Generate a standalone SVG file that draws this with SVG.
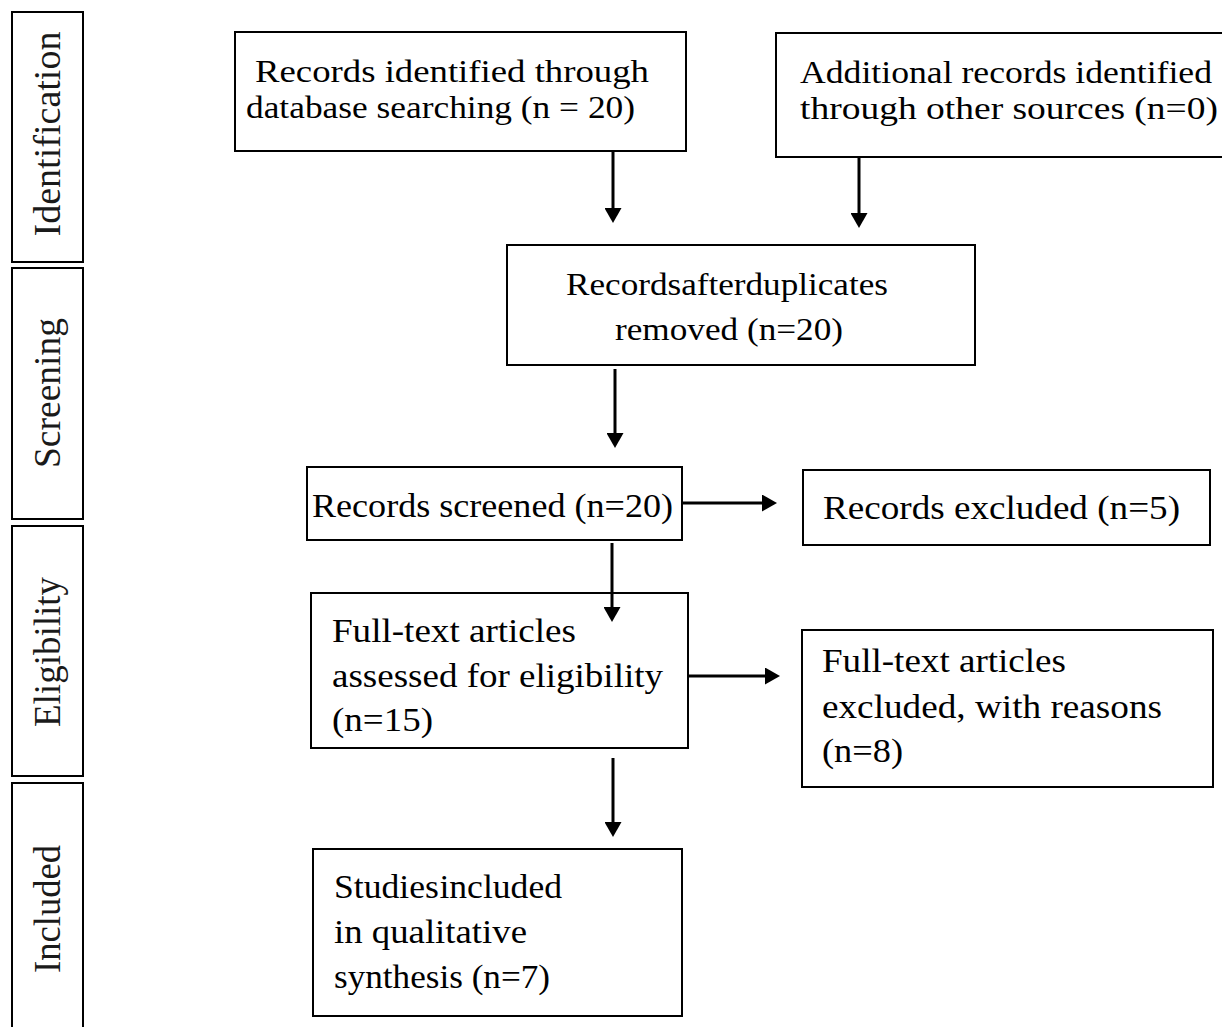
<svg xmlns="http://www.w3.org/2000/svg" width="1222" height="1027" viewBox="0 0 1222 1027">
<style>
  .box { fill: #ffffff; stroke: #000000; stroke-width: 2; }
  .t { font-family: "Liberation Serif", "Times New Roman", serif; font-size: 34px; fill: #000000; }
  .s { font-size: 32px; }
  .side { font-family: "Liberation Serif", "Times New Roman", serif; font-size: 38px; fill: #1a1a1a; text-anchor: middle; }
  .conn { stroke: #000000; stroke-width: 3; fill: none; marker-end: url(#arrow); }
</style>
<defs>
  <marker id="arrow" viewBox="0 0 15 17" markerWidth="15" markerHeight="17" refX="5" refY="8.5" orient="auto" markerUnits="userSpaceOnUse">
    <path d="M0,0 L15,8.5 L0,17 z" fill="#000000"/>
  </marker>
</defs>
<rect width="1222" height="1027" fill="#ffffff"/>

<g id="stage-identification">
  <rect class="box" x="12" y="12" width="71" height="250"/>
  <text class="side" transform="translate(60,134) rotate(-90)" textLength="205" lengthAdjust="spacingAndGlyphs">Identification</text>
</g>
<g id="stage-screening">
  <rect class="box" x="12" y="268" width="71" height="251"/>
  <text class="side" transform="translate(60,393) rotate(-90)" textLength="150" lengthAdjust="spacingAndGlyphs">Screening</text>
</g>
<g id="stage-eligibility">
  <rect class="box" x="12" y="526" width="71" height="250"/>
  <text class="side" transform="translate(60,652) rotate(-90)" textLength="150" lengthAdjust="spacingAndGlyphs">Eligibility</text>
</g>
<g id="stage-included">
  <rect class="box" x="12" y="783" width="71" height="260"/>
  <text class="side" transform="translate(60,909) rotate(-90)" textLength="128" lengthAdjust="spacingAndGlyphs">Included</text>
</g>

<g id="node-database">
  <rect class="box" x="235" y="32" width="451" height="119"/>
  <text class="t s" x="255" y="82" textLength="394" lengthAdjust="spacingAndGlyphs">Records identified through</text>
  <text class="t s" x="246" y="118" textLength="389" lengthAdjust="spacingAndGlyphs">database searching (n = 20)</text>
</g>
<g id="node-other-sources">
  <rect class="box" x="776" y="33" width="460" height="124"/>
  <text class="t s" x="800" y="83" textLength="412" lengthAdjust="spacingAndGlyphs">Additional records identified</text>
  <text class="t s" x="800" y="119" textLength="418" lengthAdjust="spacingAndGlyphs">through other sources (n=0)</text>
</g>
<g id="node-duplicates">
  <rect class="box" x="507" y="245" width="468" height="120"/>
  <text class="t s" x="566" y="295" textLength="322" lengthAdjust="spacingAndGlyphs" word-spacing="-8">Records after duplicates</text>
  <text class="t s" x="615" y="340" textLength="228" lengthAdjust="spacingAndGlyphs">removed (n=20)</text>
</g>
<g id="node-screened">
  <rect class="box" x="307" y="467" width="375" height="73"/>
  <text class="t" x="312" y="517" textLength="361" lengthAdjust="spacingAndGlyphs">Records screened (n=20)</text>
</g>
<g id="node-records-excluded">
  <rect class="box" x="803" y="470" width="407" height="75"/>
  <text class="t" x="823" y="519" textLength="357" lengthAdjust="spacingAndGlyphs">Records excluded (n=5)</text>
</g>
<g id="node-fulltext-assessed">
  <rect class="box" x="311" y="593" width="377" height="155"/>
  <text class="t" x="332" y="642" textLength="244" lengthAdjust="spacingAndGlyphs">Full-text articles</text>
  <text class="t" x="332" y="687" textLength="331" lengthAdjust="spacingAndGlyphs">assessed for eligibility</text>
  <text class="t" x="332" y="731" textLength="101" lengthAdjust="spacingAndGlyphs">(n=15)</text>
</g>
<g id="node-fulltext-excluded">
  <rect class="box" x="802" y="630" width="411" height="157"/>
  <text class="t" x="822" y="672" textLength="244" lengthAdjust="spacingAndGlyphs">Full-text articles</text>
  <text class="t" x="822" y="718" textLength="340" lengthAdjust="spacingAndGlyphs">excluded, with reasons</text>
  <text class="t" x="822" y="762" textLength="81" lengthAdjust="spacingAndGlyphs">(n=8)</text>
</g>
<g id="node-included">
  <rect class="box" x="313" y="849" width="369" height="167"/>
  <text class="t" x="334" y="898" textLength="228" lengthAdjust="spacingAndGlyphs" word-spacing="-8">Studies included</text>
  <text class="t" x="334" y="943" textLength="193" lengthAdjust="spacingAndGlyphs">in qualitative</text>
  <text class="t" x="334" y="988" textLength="216" lengthAdjust="spacingAndGlyphs">synthesis (n=7)</text>
</g>

<g id="connectors">
  <line class="conn" x1="613" y1="151" x2="613" y2="213"/>
  <line class="conn" x1="859" y1="157" x2="859" y2="218"/>
  <line class="conn" x1="615" y1="369" x2="615" y2="438"/>
  <line class="conn" x1="683" y1="503" x2="767" y2="503"/>
  <line class="conn" x1="612" y1="543" x2="612" y2="612"/>
  <line class="conn" x1="688" y1="676" x2="770" y2="676"/>
  <line class="conn" x1="613" y1="758" x2="613" y2="827"/>
</g>
</svg>
